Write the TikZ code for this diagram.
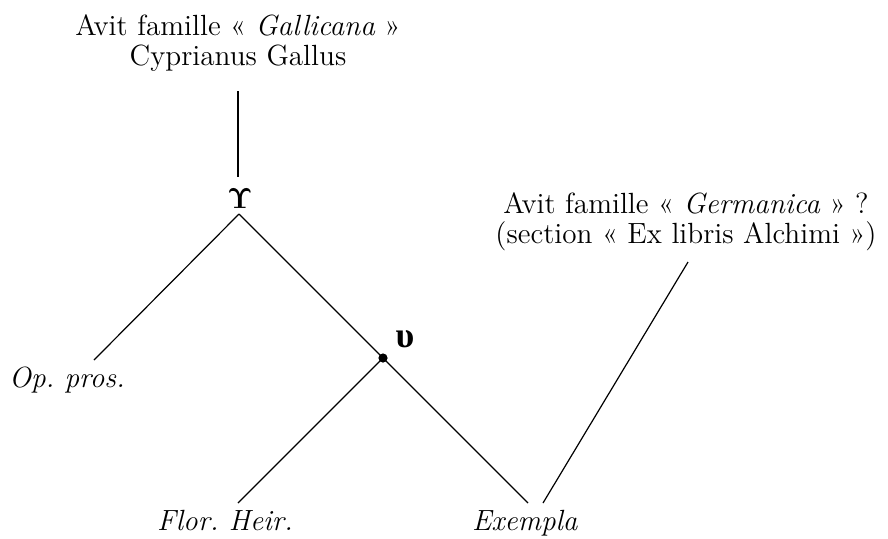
\documentclass[tikz,border=0pt]{standalone}
\usepackage{amsmath, amssymb}
\usepackage{bm}
\usepackage{fontspec}
\newfontfamily\grkfont{Liberation Serif}
\usepackage{tikz}
\usetikzlibrary{positioning}
\frenchspacing

\tikzset{
	txt/.style={font=\fontsize{14.6}{15}\selectfont, align=center, inner sep=0},
	sig/.style={font=\fontsize{14.6}{15}\selectfont, inner sep=0},
	dot/.style={circle, fill=black, inner sep=0, minimum size=4.6pt}
}

\begin{document}
\begin{tikzpicture}[x=0.5pt, y=-0.5pt, line width=0.6pt]
	\useasboundingbox (0,0) rectangle (888,538);
	% witnesses and families
	\node[txt, anchor=north] at(238, 14) (gall) {Avit famille « \textit{Gallicana} »\\Cyprianus Gallus};
	\node[txt, anchor=north] at(686, 192) (germ) {Avit famille « \textit{Germanica} » ?\\(section « Ex libris Alchimi »)};
	\node[txt, anchor=base] at(67, 387) (opros) {\textit{Op. pros.}};
	\node[txt, anchor=base] at(225, 530) (flor) {\textit{Flor. Heir.}};
	\node[txt, anchor=base] at(525, 530) (exempla) {\textit{Exempla}};
	% hyparchetypes
	\node[sig] at(240, 199) (Ups) {$\bm{\Upsilon}$};
	\node[dot] at(383, 358) (ups) {};
	\node[sig, font=\fontsize{18}{18}\selectfont] at(405, 339) (upslbl) {\grkfont\bfseries υ};
	% line ends
	\coordinate (gallFoot) at (238, 91);
	\coordinate (UpsTop) at (238, 177);
	\coordinate (UpsFoot) at (239, 214);
	\coordinate (oprosTop) at (94, 360);
	\coordinate (florTop) at (238, 503);
	\coordinate (exTopL) at (528, 503);
	\coordinate (exTopR) at (543, 503);
	\coordinate (germFoot) at (688, 262);
	\path[draw]
		(gallFoot) edge (UpsTop)
		(UpsFoot) edge (oprosTop)
		(UpsFoot) edge (ups.center)
		(ups.center) edge (florTop)
		(ups.center) edge (exTopL)
		(germFoot) edge (exTopR);
\end{tikzpicture}
\end{document}
